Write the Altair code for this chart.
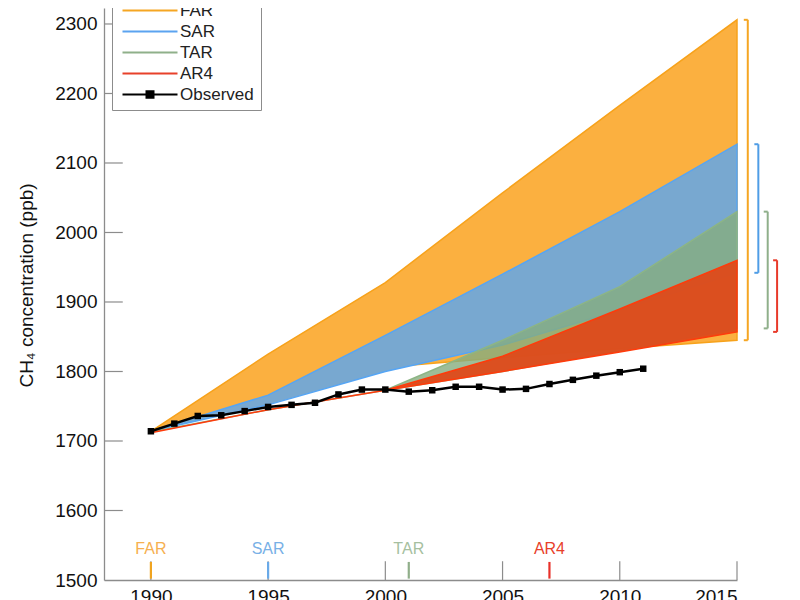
import altair as alt
import pandas as pd

# ---------------- data ----------------
years = [1990, 1995, 2000, 2005, 2010, 2015]
far_hi = [1714, 1825, 1928, 2057, 2183, 2306]
far_lo = [1714, 1758, 1806, 1820, 1833, 1845]
sar_hi = [1714, 1766, 1852, 1940, 2030, 2127]
sar_lo = [1714, 1752, 1800, 1838, 1888, 1942]
tar_hi = [1713, 1745, 1773, 1845, 1922, 2030]
tar_lo = [1713, 1745, 1773, 1800, 1830, 1862]
ar4_hi = [1712, 1745, 1773, 1822, 1890, 1960]
ar4_lo = [1712, 1745, 1773, 1800, 1828, 1857]

obs_years = list(range(1990, 2012))
obs_vals = [1714, 1725, 1736, 1737, 1743, 1749, 1752, 1755, 1767, 1774, 1774,
            1771, 1773, 1778, 1778, 1774, 1775, 1782, 1788, 1794, 1799, 1804]

series = ["FAR", "SAR", "TAR", "AR4"]
report_years = [1990, 1995, 2001, 2007]
bands = {"FAR": (far_lo, far_hi), "SAR": (sar_lo, sar_hi),
         "TAR": (tar_lo, tar_hi), "AR4": (ar4_lo, ar4_hi)}

x_ticks = [1990, 1995, 2000, 2005, 2010, 2015]
y_ticks = [1500, 1600, 1700, 1800, 1900, 2000, 2100, 2200, 2300]

# ---------------- styles ----------------
fill_colors = {"FAR": "#FBB040", "SAR": "#78A8D0", "TAR": "#86AD7E", "AR4": "#DE4A1A"}
fill_opac = {"FAR": 1.0, "SAR": 1.0, "TAR": 0.8, "AR4": 0.95}
edge_colors = {"FAR": "#F7A21B", "SAR": "#55A5F5", "TAR": "#8DB585", "AR4": "#FF3B0B"}
label_colors = {"FAR": "#F6B04F", "SAR": "#78B0E6", "TAR": "#A6BFA0", "AR4": "#E8402A"}
tick_colors = {"FAR": "#F0A420", "SAR": "#6AAAE8", "TAR": "#90AE8A", "AR4": "#E8312A"}
bracket_colors = {"FAR": "#F5A623", "SAR": "#4F9DE6", "TAR": "#8FAF8A", "AR4": "#E83A2A"}
bracket_offsets = {"FAR": 0.46, "SAR": 0.91, "TAR": 1.31, "AR4": 1.71}
legend_names = ["FAR", "SAR", "TAR", "AR4", "Observed"]
legend_colors = ["#F5A623", "#5BA3F0", "#8FB08A", "#E8412A", "#000000"]
line_path = "M-1,0H10"
obs_path = "M-1,0H10M3.8,-0.65H5.2V0.65H3.8Z"

GRAY = "#8c8c8c"
FONT = "Liberation Sans"

# ---------------- tables ----------------
band_df = pd.DataFrame([
    {"series": s, "year": y, "lo": lo, "hi": hi}
    for s in series for y, lo, hi in zip(years, bands[s][0], bands[s][1])
])
obs_df = pd.DataFrame({"year": obs_years, "value": obs_vals, "series": "Observed"})
rep_df = pd.DataFrame({"series": series, "year": report_years,
                       "ylab": [1545] * 4, "t0": [1502] * 4, "t1": [1526] * 4,
                       "lcol": [label_colors[s] for s in series],
                       "tcol": [tick_colors[s] for s in series]})
brk_df = pd.DataFrame({"series": series,
                       "xv": [2015 + bracket_offsets[s] for s in series],
                       "xh": [2015 + bracket_offsets[s] - 0.17 for s in series],
                       "lo": [bands[s][0][-1] for s in series],
                       "hi": [bands[s][1][-1] for s in series],
                       "col": [bracket_colors[s] for s in series]})
xt_df = pd.DataFrame({"year": x_ticks, "y0": 1500, "y1": 1527})
yt_df = pd.DataFrame({"value": y_ticks[1:], "x0": 1988, "x1": 1988.8})

xs = alt.Scale(domain=[1988, 2015], nice=False, zero=False)
ys = alt.Scale(domain=[1500, 2323], nice=False, zero=False)
xaxis = alt.Axis(values=x_ticks, format="d", title=None, labelFontSize=19)
yaxis = alt.Axis(values=y_ticks, format="d", title="CH\u2084 concentration (ppb)",
                 titleFontSize=19, titleFont=FONT, titleFontWeight="normal",
                 titleColor="#111", titleAngle=-90, titleX=-72, titleY=277,
                 titleAlign="center", titleBaseline="alphabetic", labelFontSize=19)


def X(f):
    return alt.X(f, type="quantitative", scale=xs, axis=xaxis, title=None)


def Y(f):
    return alt.Y(f, type="quantitative", scale=ys, axis=yaxis,
                 title="CH\u2084 concentration (ppb)")


layers = []
for s in series:
    layers.append(
        alt.Chart(band_df).transform_filter(alt.datum.series == s)
        .mark_area(fill=fill_colors[s], fillOpacity=fill_opac[s],
                   stroke=edge_colors[s], strokeWidth=1.5)
        .encode(x=X("year"), y=Y("lo"), y2="hi:Q")
    )

obs_line = alt.Chart(obs_df).mark_line(color="black", strokeWidth=2.5).encode(
    x=X("year"), y=Y("value"))
obs_pts = alt.Chart(obs_df).mark_square(size=42, color="black", opacity=1).encode(
    x=X("year"), y=Y("value"))

xt = alt.Chart(xt_df).mark_rule(color=GRAY, strokeWidth=1.2).encode(
    x=X("year"), y=Y("y0"), y2="y1:Q")
yt = alt.Chart(yt_df).mark_rule(color=GRAY, strokeWidth=1.2).encode(
    x=X("x0"), x2="x1:Q", y=Y("value"))

rep_ticks = alt.Chart(rep_df).mark_rule(strokeWidth=2.2).encode(
    x=X("year"), y=Y("t0"), y2="t1:Q", color=alt.Color("tcol:N", scale=None))
rep_text = alt.Chart(rep_df).mark_text(fontSize=16, font=FONT, baseline="middle",
                                       align="center").encode(
    x=X("year"), y=Y("ylab"), text="series:N", color=alt.Color("lcol:N", scale=None))

brk_v = alt.Chart(brk_df).mark_rule(strokeWidth=2).encode(
    x=X("xv"), y=Y("lo"), y2="hi:Q", color=alt.Color("col:N", scale=None))
brk_t = alt.Chart(brk_df).mark_rule(strokeWidth=2).encode(
    x=X("xh"), x2="xv:Q", y=Y("hi"), color=alt.Color("col:N", scale=None))
brk_b = alt.Chart(brk_df).mark_rule(strokeWidth=2).encode(
    x=X("xh"), x2="xv:Q", y=Y("lo"), color=alt.Color("col:N", scale=None))

leg_props = dict(orient="none", legendX=8, legendY=-13, title=None,
                 fillColor="white", strokeColor=GRAY, padding=7,
                 labelFontSize=17, labelFont=FONT, labelColor="#222",
                 symbolSize=100, symbolStrokeWidth=2, labelOffset=44,
                 rowPadding=3)
legend_layer = alt.Chart(obs_df).transform_filter("false").mark_point(
    filled=True, size=100, opacity=1).encode(
    x=X("year"), y=Y("value"),
    fill=alt.Fill("series:N", scale=alt.Scale(domain=legend_names, range=legend_colors),
                  legend=alt.Legend(**leg_props)),
    stroke=alt.Stroke("series:N", scale=alt.Scale(domain=legend_names, range=legend_colors),
                      legend=alt.Legend(**leg_props)),
    shape=alt.Shape("series:N",
                    scale=alt.Scale(domain=legend_names, range=[line_path] * 4 + [obs_path]),
                    legend=alt.Legend(**leg_props)),
)

chart = alt.layer(
    *layers, obs_line, obs_pts, xt, yt, rep_ticks, rep_text, brk_v, brk_t, brk_b,
    legend_layer
).properties(
    width=633, height=572,
    autosize=alt.AutoSizeParams(type="none"),
    padding={"left": 96, "top": 0, "right": 55, "bottom": 20},
    background="white",
).configure_view(stroke=None).configure_axis(
    domainColor=GRAY, domainWidth=1.3, labelFont=FONT, labelColor="#111",
    ticks=False, grid=False, labelPadding=7,
)

chart.save("out.html", embed_options={"renderer": "svg", "actions": False})
